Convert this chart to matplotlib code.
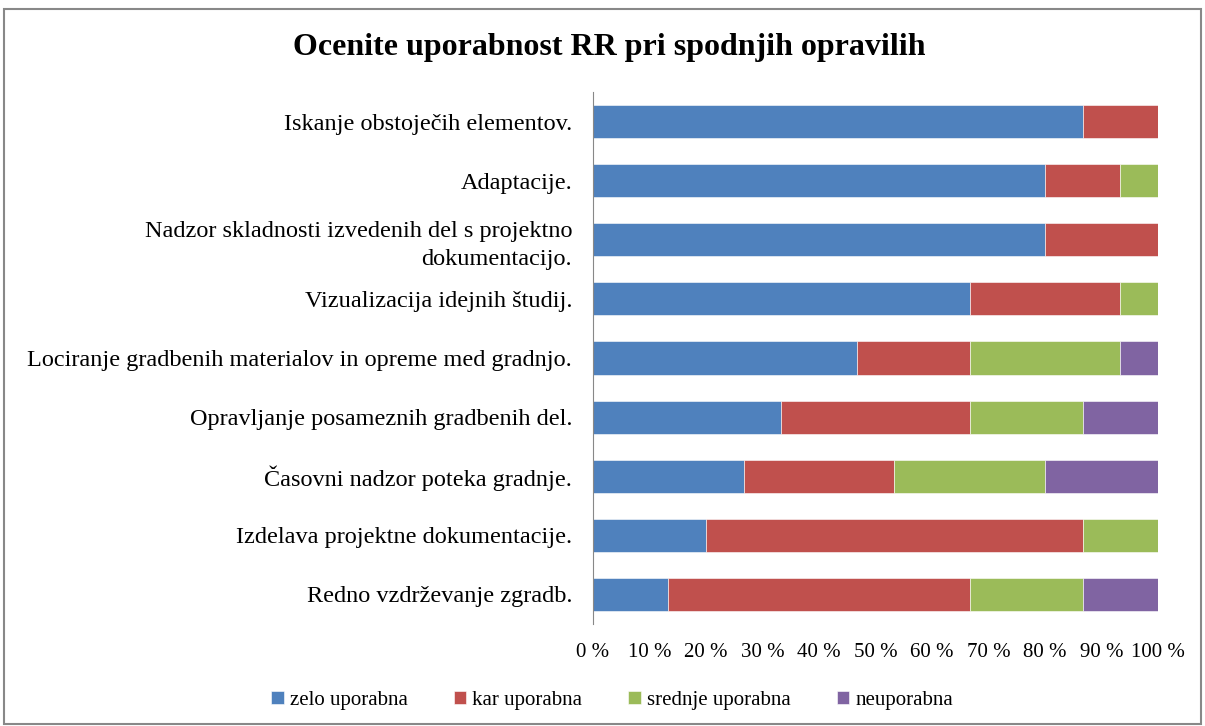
import numpy as np
import matplotlib.pyplot as plt
from matplotlib.patches import Rectangle

# tasks, top to bottom
tasks = ["Iskanje obstoječih elementov.",
         "Adaptacije.",
         "Nadzor skladnosti izvedenih del s projektno\ndokumentacijo.",
         "Vizualizacija idejnih študij.",
         "Lociranje gradbenih materialov in opreme med gradnjo.",
         "Opravljanje posameznih gradbenih del.",
         "Časovni nadzor poteka gradnje.",
         "Izdelava projektne dokumentacije.",
         "Redno vzdrževanje zgradb."]

series = ["zelo uporabna", "kar uporabna", "srednje uporabna", "neuporabna"]
colors = ["#4F81BD", "#C0504D", "#9BBB59", "#8064A2"]

# number of answers per rating
zelo = [13, 12, 12, 10, 7, 5, 4, 3, 2]
kar = [2, 2, 3, 4, 3, 5, 4, 10, 8]
srednje = [0, 1, 0, 1, 4, 3, 4, 2, 3]
neuporabna = [0, 0, 0, 0, 1, 2, 3, 0, 2]

plt.rcParams['font.family'] = ['Liberation Serif', 'DejaVu Serif']

counts = np.array([zelo, kar, srednje, neuporabna], dtype=float)
shares = counts / counts.sum(axis=0) * 100

fig = plt.figure(figsize=(12.05, 7.26), dpi=100)
ax = fig.add_axes([0.4921, 0.1405, 0.4689, 0.7328])

y = np.arange(len(tasks))
left = np.zeros(len(tasks))
for i in range(len(series)):
	ax.barh(y, shares[i], left=left, height=0.56, color=colors[i],
	        edgecolor='white', linewidth=0.4, label=series[i])
	left += shares[i]

ax.set_ylim(len(tasks) - 0.5, -0.5)
ax.set_xlim(0, 100)
ax.set_xticks(np.arange(0, 101, 10))
ax.set_xticklabels(["%d %%" % v for v in range(0, 101, 10)], fontsize=15)
ax.set_yticks(y)
ax.set_yticklabels(tasks, fontsize=17.5, linespacing=1.4)

for side in ['top', 'right', 'bottom']:
	ax.spines[side].set_visible(False)
ax.spines['left'].set_color('#888888')
ax.tick_params(axis='x', length=0, pad=14)
ax.tick_params(axis='y', length=0, pad=15)

fig.text(0.506, 0.935, "Ocenite uporabnost RR pri spodnjih opravilih",
         ha='center', va='center', fontsize=23, fontweight='bold')

fig.legend(loc='center', bbox_to_anchor=(0.508, 0.035), ncol=4, frameon=False,
           fontsize=15, handlelength=0.6, handleheight=0.6,
           handletextpad=0.3, columnspacing=2.2)

# outer frame
fig.patches.append(Rectangle((0.003, 0.003), 0.994, 0.984, transform=fig.transFigure,
                             fill=False, edgecolor='#888888', linewidth=1.5))

plt.savefig("out.png", dpi=100)
plt.close()
